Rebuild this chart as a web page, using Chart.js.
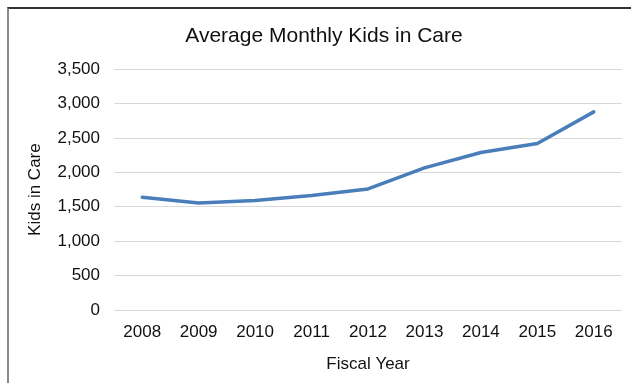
<!DOCTYPE html>
<html>
<head>
<meta charset="utf-8">
<script src="https://cdn.jsdelivr.net/npm/chart.js@4/dist/chart.umd.min.js"></script>
<style>
  html, body { margin: 0; padding: 0; background: #fff; }
  #wrap { position: relative; width: 631px; height: 383px; overflow: hidden; }
  #frame { position: absolute; left: 7px; top: 7px; width: 700px; height: 500px;
           border-top: 2px solid #333; border-left: 2px solid #8a8a8a; }
  #myChart { position: absolute; left: 0; top: 0; }
</style>
</head>
<body>
<div id="wrap">
  <div id="frame"></div>
  <canvas id="myChart" width="631" height="383"></canvas>
</div>
<script>
const years = ["2008", "2009", "2010", "2011", "2012", "2013", "2014", "2015", "2016"];
const kidsInCare = [1640, 1555, 1590, 1663, 1760, 2065, 2290, 2420, 2880];
const yTicks = [0, 500, 1000, 1500, 2000, 2500, 3000, 3500];

const font = "'Liberation Sans', Arial, sans-serif";
const textColor = "#111";

const ctx = document.getElementById('myChart');
const myChart = new Chart(ctx, {
    type: "line",
    data: {
        labels: years,
        datasets: [{
            fill: false,
            tension: 0,
            borderColor: "#4a7ebb",
            borderWidth: 3.5,
            borderJoinStyle: "round",
            borderCapStyle: "round",
            pointRadius: 0,
            data: kidsInCare
        }]
    },
    options: {
        responsive: false,
        animation: false,
        layout: {padding: {left: 26, right: 9, top: 0, bottom: 0}},
        plugins: {
            legend: {display: false},
            tooltip: {enabled: false},
            title: {
                display: true,
                text: "Average Monthly Kids in Care",
                color: textColor,
                font: {family: font, size: 21, weight: "normal", lineHeight: 1.2},
                padding: {top: 24, bottom: 20}
            }
        },
        scales: {
            x: {
                offset: true,
                grid: {display: false, drawTicks: false},
                border: {display: false},
                ticks: {color: textColor, padding: 12, font: {family: font, size: 17}, maxRotation: 0},
                title: {
                    display: true,
                    text: "Fiscal Year",
                    color: textColor,
                    font: {family: font, size: 17, lineHeight: 1.2},
                    padding: {top: 0, bottom: 8}
                },
                afterFit: function(scale) { scale.height = 73; }
            },
            y: {
                min: yTicks[0],
                max: yTicks[yTicks.length - 1],
                grid: {color: "#d9d9d9", lineWidth: 1, drawTicks: false},
                border: {display: false},
                afterBuildTicks: function(scale) {
                    scale.ticks = yTicks.map(v => ({value: v}));
                },
                ticks: {
                    color: textColor,
                    padding: 14,
                    font: {family: font, size: 17},
                    callback: function(value) { return Number(value).toLocaleString('en-US'); }
                },
                title: {
                    display: true,
                    text: "Kids in Care",
                    color: textColor,
                    font: {family: font, size: 17, lineHeight: 1.1},
                    padding: {top: 0, bottom: 0}
                },
                afterFit: function(scale) { scale.width = 88; }
            }
        }
    }
});
</script>
</body>
</html>
